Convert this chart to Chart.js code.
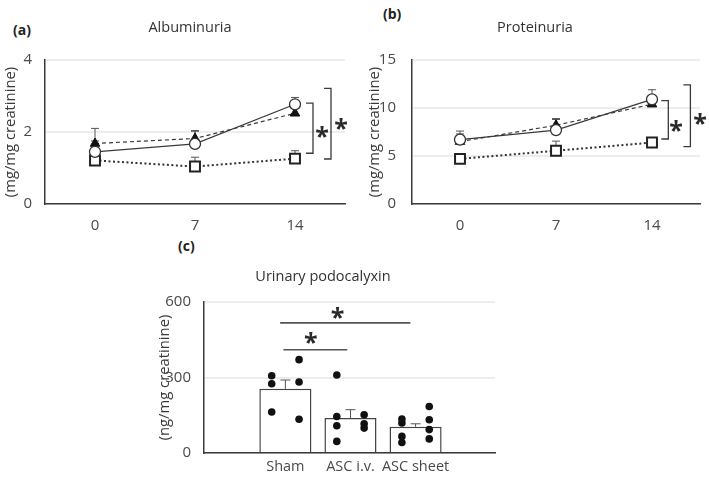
<!DOCTYPE html>
<html lang="en">
<head>
<meta charset="UTF-8">
<title>Albuminuria, proteinuria, podocalyxin</title>
<script src="https://cdn.jsdelivr.net/npm/chart.js"></script>
<style>
  body { margin: 0; width: 709px; height: 479px; background: #fff; position: relative; overflow: hidden; font-family: "Open Sans", sans-serif; }
  canvas { position: absolute; }
  .tag { position: absolute; font-weight: bold; font-size: 14px; line-height: 16px; color: #222; }
</style>
</head>
<body>
<div class="tag" style="left:13px;top:22px">(a)</div>
<div class="tag" style="left:383px;top:6px">(b)</div>
<div class="tag" style="left:178px;top:238px">(c)</div>
<canvas id="albChart" width="380" height="240" style="left:0;top:0"></canvas>
<canvas id="protChart" width="348" height="240" style="left:361px;top:0"></canvas>
<canvas id="podoChart" width="366" height="244" style="left:140px;top:235px"></canvas>
<script>
// days after induction
const days = ['0', '7', '14'];

// albuminuria (mg/mg creatinine): mean and top of error bar
const albOpen = [1.45, 1.67, 2.77];
const albOpenErr = [1.75, 2.02, 2.96];
const albTri = [1.68, 1.82, 2.52];
const albTriErr = [2.1, 2.04, 2.7];
const albSquare = [1.21, 1.04, 1.26];
const albSquareErr = [1.3, 1.3, 1.48];

// proteinuria (mg/mg creatinine)
const protOpen = [6.7, 7.7, 10.9];
const protOpenErr = [7.6, 8.8, 11.9];
const protTri = [6.5, 8.2, 10.4];
const protTriErr = [7.3, 8.9, 11.0];
const protSquare = [4.7, 5.55, 6.4];
const protSquareErr = [5.0, 6.55, 6.8];

// urinary podocalyxin (ng/mg creatinine)
const groups = ['Sham', 'ASC i.v.', 'ASC sheet'];
const podoMean = [255, 139, 104];
const podoErr = [290, 172, 116];
const podoLeft = [[307, 275, 163], [310, 145, 108, 46], [135, 119, 66, 42]];
const podoRight = [[371, 282, 134], [152, 116, 99], [185, 132, 93, 56]];

Chart.defaults.font.family = '"Open Sans", sans-serif';
Chart.defaults.color = '#4a4a4a';
const ink = '#3a3a3a';
const faint = 'rgba(190, 205, 215, 0.35)';

function drawStar(ctx, x, y) {
    ctx.font = 'bold 25px "Open Sans"';
    ctx.textAlign = 'center';
    ctx.textBaseline = 'alphabetic';
    ctx.fillText('*', x, y + 15);
}

// empty axis on the right, only to hold the plot away from the edge
function spacer(w) {
    return {
        position: 'right',
        display: true,
        grid: { display: false, drawTicks: false },
        border: { display: false },
        ticks: { display: false },
        afterFit(scale) { scale.width = w; }
    };
}

// upward error bars with a cap
const errorBars = {
    id: 'errorBars',
    beforeDatasetsDraw(chart) {
        const ctx = chart.ctx, ys = chart.scales.y;
        chart.data.datasets.forEach((ds, i) => {
            if (!ds.errTop) return;
            const meta = chart.getDatasetMeta(i);
            ctx.save();
            ctx.strokeStyle = '#555';
            ctx.lineWidth = 1;
            meta.data.forEach((el, j) => {
                const top = ys.getPixelForValue(ds.errTop[j]);
                const w = ds.capHalf || 4;
                ctx.beginPath();
                ctx.moveTo(el.x, el.y);
                ctx.lineTo(el.x, top);
                ctx.moveTo(el.x - w, top);
                ctx.lineTo(el.x + w, top);
                ctx.stroke();
            });
            ctx.restore();
        });
    }
};

// significance brackets / lines with stars, given in data units
function sigMarks(brackets, lines) {
    return {
        id: 'sigMarks',
        afterDatasetsDraw(chart) {
            const ctx = chart.ctx, xs = chart.scales.x, ys = chart.scales.y;
            ctx.save();
            ctx.strokeStyle = ink;
            ctx.fillStyle = '#2a2a2a';
            ctx.lineWidth = 1.3;
            brackets.forEach(b => {
                const x = xs.getPixelForValue(b.x);
                const y1 = ys.getPixelForValue(b.top), y2 = ys.getPixelForValue(b.bottom);
                ctx.beginPath();
                ctx.moveTo(x - 7, y1);
                ctx.lineTo(x, y1);
                ctx.lineTo(x, y2);
                ctx.lineTo(x - 7, y2);
                ctx.stroke();
                drawStar(ctx, xs.getPixelForValue(b.starX), ys.getPixelForValue(b.starY));
            });
            ctx.strokeStyle = '#555';
            ctx.lineWidth = 1.6;
            lines.forEach(l => {
                const y = ys.getPixelForValue(l.y);
                ctx.beginPath();
                ctx.moveTo(xs.getPixelForValue(l.from), y);
                ctx.lineTo(xs.getPixelForValue(l.to), y);
                ctx.stroke();
                drawStar(ctx, xs.getPixelForValue(l.starX), ys.getPixelForValue(l.starY));
            });
            ctx.restore();
        }
    };
}

function lineChart(id, cfg) {
    new Chart(document.getElementById(id), {
        type: 'line',
        data: {
            labels: days,
            datasets: [{
                data: cfg.open,
                errTop: cfg.openErr,
                borderColor: ink,
                borderWidth: 1.2,
                pointStyle: 'circle',
                pointRadius: 5.5,
                pointBackgroundColor: '#fff',
                pointBorderColor: '#333',
                pointBorderWidth: 1.3
            }, {
                data: cfg.tri,
                errTop: cfg.triErr,
                borderColor: ink,
                borderWidth: 1.2,
                borderDash: [4, 3],
                pointStyle: 'triangle',
                pointRadius: 5.5,
                pointBackgroundColor: '#111',
                pointBorderColor: '#111',
                pointBorderWidth: 1
            }, {
                data: cfg.square,
                errTop: cfg.squareErr,
                borderColor: '#333',
                borderWidth: 2,
                borderDash: [2, 2.5],
                pointStyle: 'rect',
                pointRadius: 7,
                pointBackgroundColor: '#fff',
                pointBorderColor: '#222',
                pointBorderWidth: 2
            }]
        },
        options: {
            responsive: false,
            animation: false,
            layout: { padding: 0 },
            plugins: {
                legend: { display: false },
                tooltip: { enabled: false },
                title: {
                    display: true,
                    text: cfg.title,
                    color: '#333',
                    font: { size: 14.5, weight: 'normal' },
                    padding: { top: 19.3, bottom: 23.3 }
                }
            },
            scales: {
                x: {
                    type: 'category',
                    offset: true,
                    grid: { display: false, drawTicks: false },
                    border: { display: true, color: ink, width: 1.5 },
                    ticks: { padding: 13, font: { size: 15 }, maxRotation: 0 },
                    afterFit(scale) { scale.height = 36; }
                },
                y: {
                    min: 0,
                    max: cfg.yMax,
                    ticks: { stepSize: cfg.yStep, padding: cfg.tickPad, font: { size: 15 } },
                    grid: { color: faint, lineWidth: 2, drawTicks: false },
                    border: { display: true, color: ink, width: 1.5 },
                    title: {
                        display: true,
                        text: '(mg/mg creatinine)',
                        color: '#3a3a3a',
                        font: { size: 14.8 },
                        padding: { top: cfg.titlePad, bottom: 0 }
                    },
                    afterFit(scale) { scale.width = cfg.axisWidth; }
                },
                pad: spacer(cfg.padRight)
            }
        },
        plugins: [errorBars, sigMarks(cfg.brackets, [])]
    });
}

lineChart('albChart', {
    title: 'Albuminuria',
    open: albOpen, openErr: albOpenErr,
    tri: albTri, triErr: albTriErr,
    square: albSquare, squareErr: albSquareErr,
    yMax: 4, yStep: 2,
    padRight: 35, axisWidth: 45, tickPad: 13, titlePad: 1.5,
    brackets: [
        { x: 2.18, top: 2.8, bottom: 1.41, starX: 2.27, starY: 2.05 },
        { x: 2.36, top: 3.21, bottom: 1.25, starX: 2.46, starY: 2.28 }
    ]
});

lineChart('protChart', {
    title: 'Proteinuria',
    open: protOpen, openErr: protOpenErr,
    tri: protTri, triErr: protTriErr,
    square: protSquare, squareErr: protSquareErr,
    yMax: 15, yStep: 5,
    padRight: 9, axisWidth: 51, tickPad: 16, titlePad: 5,
    brackets: [
        { x: 2.17, top: 10.76, bottom: 6.77, starX: 2.25, starY: 8.3 },
        { x: 2.4, top: 12.4, bottom: 5.97, starX: 2.5, starY: 9.1 }
    ]
});

// podocalyxin: bars plus individual animals
const jitter = 0.21;
const dots = [];
podoLeft.forEach((vals, i) => vals.forEach(v => dots.push({ x: i + 1 - jitter, y: v })));
podoRight.forEach((vals, i) => vals.forEach(v => dots.push({ x: i + 1 + jitter, y: v })));

new Chart(document.getElementById('podoChart'), {
    type: 'bar',
    data: {
        datasets: [{
            type: 'scatter',
            data: dots,
            order: 0,
            pointRadius: 3.8,
            pointBackgroundColor: '#111',
            pointBorderWidth: 0
        }, {
            type: 'bar',
            data: groups.map((g, i) => ({ x: i + 1, y: podoMean[i] })),
            errTop: podoErr,
            capHalf: 5,
            order: 1,
            backgroundColor: '#fff',
            borderColor: '#444',
            borderWidth: 1.5,
            barPercentage: 1,
            categoryPercentage: 0.8
        }]
    },
    options: {
        responsive: false,
        animation: false,
        layout: { padding: 0 },
        plugins: {
            legend: { display: false },
            tooltip: { enabled: false },
            title: {
                display: true,
                text: 'Urinary podocalyxin',
                color: '#333',
                font: { size: 14.5, weight: 'normal' },
                padding: { top: 33, bottom: 16.6 }
            }
        },
        scales: {
            x: {
                type: 'linear',
                min: -0.25,
                max: 4.22,
                offset: false,
                grid: { display: false, drawTicks: false, offset: false },
                border: { display: true, color: ink, width: 1.5 },
                ticks: {
                    stepSize: 1,
                    includeBounds: false,
                    autoSkip: false,
                    maxRotation: 0,
                    padding: 5,
                    font: { size: 14.5 },
                    callback: v => groups[v - 1] || ''
                },
                afterFit(scale) { scale.height = 26; }
            },
            y: {
                min: 0,
                max: 600,
                ticks: { stepSize: 300, padding: 13, font: { size: 15 } },
                grid: { color: faint, lineWidth: 2, drawTicks: false },
                border: { display: true, color: ink, width: 1.5 },
                title: {
                    display: true,
                    text: '(ng/mg creatinine)',
                    color: '#3a3a3a',
                    font: { size: 14.8 },
                    padding: { top: 16, bottom: 0 }
                },
                afterFit(scale) { scale.width = 64; }
            },
            pad: spacer(11)
        }
    },
    plugins: [errorBars, sigMarks([], [
        { from: 0.97, to: 1.95, y: 410, starX: 1.39, starY: 463 },
        { from: 0.92, to: 2.92, y: 517, starX: 1.8, starY: 563 }
    ])]
});
</script>
</body>
</html>
